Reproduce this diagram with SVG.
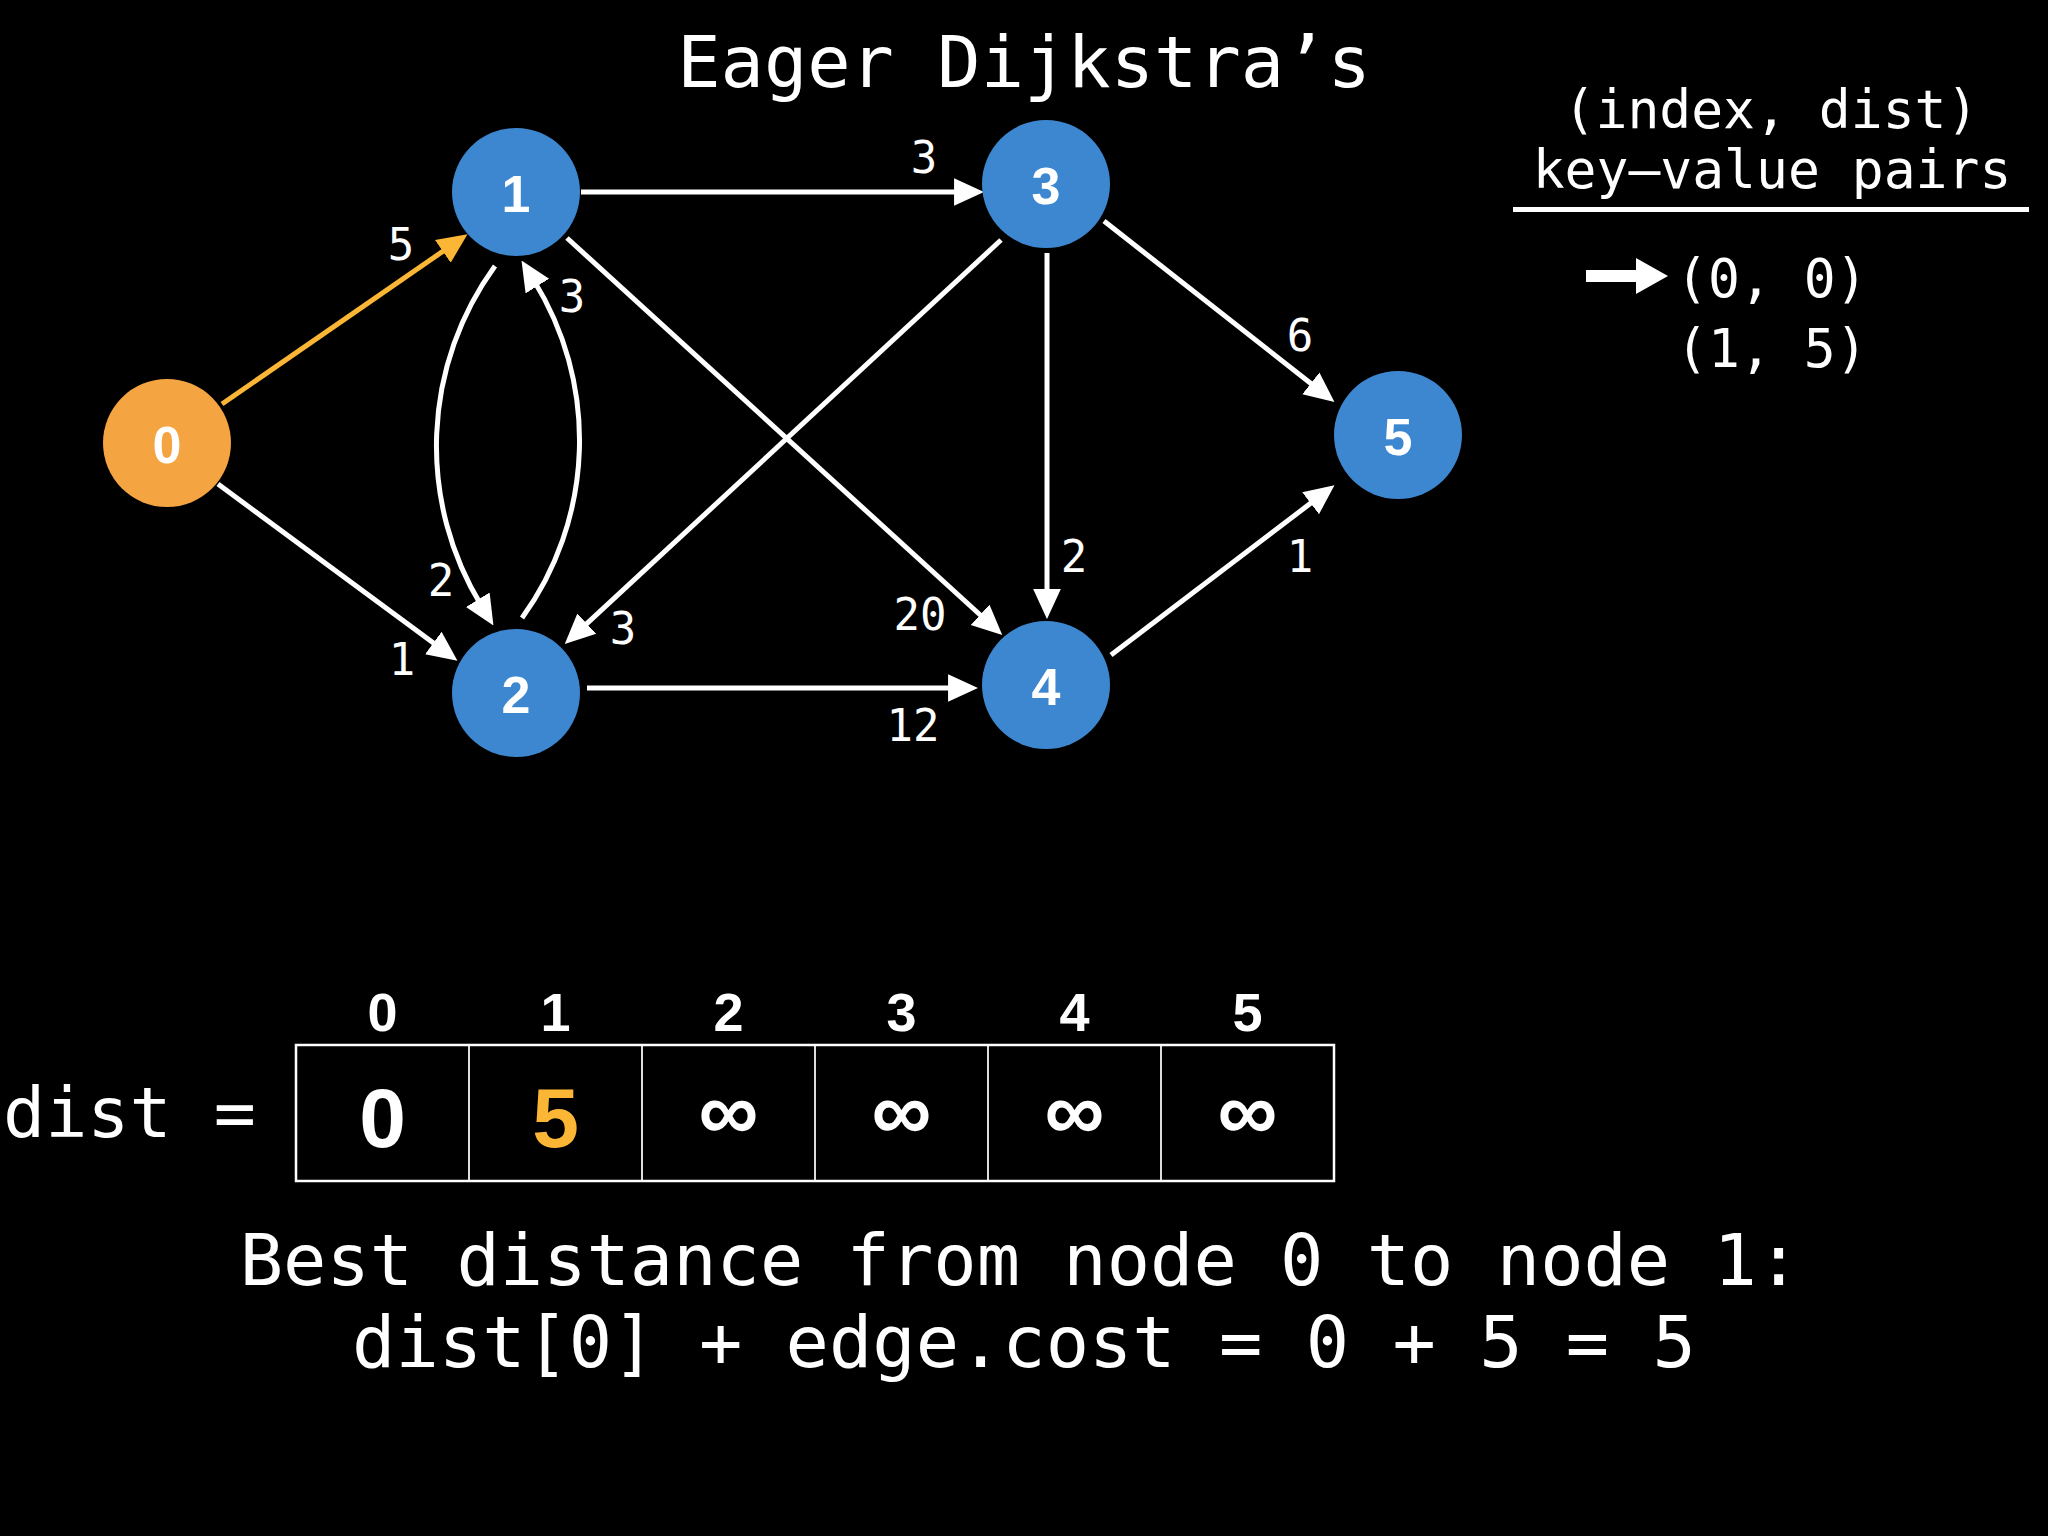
<svg xmlns="http://www.w3.org/2000/svg" width="2048" height="1536" viewBox="0 0 2048 1536">
<defs>
<style>
.mono{font-family:"DejaVu Sans Mono","Liberation Mono",monospace;fill:#fff}
.bold{font-family:"Liberation Sans",Arial,sans-serif;font-weight:bold;fill:#fff}
.edge{fill:none;stroke:#fff;stroke-width:5}
.hot{stroke:#FBB636}
.node-blue{fill:#3C87D0}
.node-orange{fill:#F5A442}
.nlabel{font-family:"Liberation Sans",Arial,sans-serif;font-weight:bold;font-size:52px;fill:#fff;text-anchor:middle}
.elabel{font-family:"DejaVu Sans Mono","Liberation Mono",monospace;font-size:44px;fill:#fff;text-anchor:middle}
</style>
<marker id="ah" markerUnits="userSpaceOnUse" markerWidth="30" markerHeight="30" viewBox="0 0 26 24" refX="6" refY="12" orient="auto">
<path d="M0,0 L26,12 L0,24 z" fill="#fff"/>
</marker>
<marker id="ahHot" markerUnits="userSpaceOnUse" markerWidth="30" markerHeight="30" viewBox="0 0 26 24" refX="6" refY="12" orient="auto">
<path d="M0,0 L26,12 L0,24 z" fill="#FBB636"/>
</marker>
</defs>
<rect width="2048" height="1536" fill="#000"/>

<text class="mono" x="1024" y="87" font-size="72" text-anchor="middle">Eager Dijkstra’s</text>

<g id="connectors">
<line class="edge hot" x1="222" y1="404" x2="448.5" y2="247.4" marker-end="url(#ahHot)"/>
<line class="edge" x1="218" y1="484" x2="438.9" y2="647.1" marker-end="url(#ah)"/>
<line class="edge" x1="581" y1="192" x2="961" y2="192" marker-end="url(#ah)"/>
<line class="edge" x1="567" y1="238" x2="985.2" y2="619.5" marker-end="url(#ah)"/>
<line class="edge" x1="1001" y1="240" x2="581.7" y2="628.4" marker-end="url(#ah)"/>
<line class="edge" x1="587" y1="688" x2="955" y2="688" marker-end="url(#ah)"/>
<line class="edge" x1="1047" y1="253" x2="1047" y2="596" marker-end="url(#ah)"/>
<line class="edge" x1="1104" y1="221" x2="1316.3" y2="387.7" marker-end="url(#ah)"/>
<line class="edge" x1="1111" y1="655" x2="1316.1" y2="499.1" marker-end="url(#ah)"/>
<path class="edge" d="M495,266 A306,306 0 0 0 481.4,605.7" marker-end="url(#ah)"/>
<path class="edge" d="M522,618 A303,303 0 0 0 533.7,280.2" marker-end="url(#ah)"/>
<text class="elabel" x="401" y="260">5</text>
<text class="elabel" x="402" y="675">1</text>
<text class="elabel" x="441" y="596">2</text>
<text class="elabel" x="572" y="312">3</text>
<text class="elabel" x="623" y="644">3</text>
<text class="elabel" x="924" y="173">3</text>
<text class="elabel" x="920" y="630">20</text>
<text class="elabel" x="913" y="741">12</text>
<text class="elabel" x="1074" y="572">2</text>
<text class="elabel" x="1300" y="351">6</text>
<text class="elabel" x="1300" y="572">1</text>
</g>

<g id="node0"><circle class="node-orange" cx="167" cy="443" r="64"/><text class="nlabel" x="167" y="463">0</text></g>
<g id="node1"><circle class="node-blue" cx="516" cy="192" r="64"/><text class="nlabel" x="516" y="212">1</text></g>
<g id="node2"><circle class="node-blue" cx="516" cy="693" r="64"/><text class="nlabel" x="516" y="713">2</text></g>
<g id="node3"><circle class="node-blue" cx="1046" cy="184" r="64"/><text class="nlabel" x="1046" y="204">3</text></g>
<g id="node4"><circle class="node-blue" cx="1046" cy="685" r="64"/><text class="nlabel" x="1046" y="705">4</text></g>
<g id="node5"><circle class="node-blue" cx="1398" cy="435" r="64"/><text class="nlabel" x="1398" y="455">5</text></g>

<g id="queue">
<text class="mono" x="1771" y="128" font-size="53" text-anchor="middle">(index, dist)</text>
<text class="mono" x="1772" y="188" font-size="53" text-anchor="middle">key–value pairs</text>
<rect x="1513" y="207" width="516" height="5" fill="#fff"/>
<rect x="1586" y="270" width="52" height="12" fill="#fff"/>
<path d="M1636,258 L1668,276 L1636,294 z" fill="#fff"/>
<text class="mono" x="1676" y="297" font-size="53">(0, 0)</text>
<text class="mono" x="1676" y="367" font-size="53">(1, 5)</text>
</g>

<g id="dist-array">
<text class="mono" x="3" y="1137" font-size="70">dist =</text>
<g stroke="#ddd" stroke-width="2">
<line x1="469" y1="1045" x2="469" y2="1181"/>
<line x1="642" y1="1045" x2="642" y2="1181"/>
<line x1="815" y1="1045" x2="815" y2="1181"/>
<line x1="988" y1="1045" x2="988" y2="1181"/>
<line x1="1161" y1="1045" x2="1161" y2="1181"/>
</g>
<rect x="296" y="1045" width="1038" height="136" fill="none" stroke="#fff" stroke-width="2.5"/>
<g class="bold" font-size="54" text-anchor="middle">
<text x="382.5" y="1031">0</text>
<text x="555.5" y="1031">1</text>
<text x="728.5" y="1031">2</text>
<text x="901.5" y="1031">3</text>
<text x="1074.5" y="1031">4</text>
<text x="1247.5" y="1031">5</text>
</g>
<g class="bold" font-size="84" text-anchor="middle">
<text x="382.5" y="1147">0</text>
<text x="555.5" y="1147" fill="#FBB636">5</text>
<text x="728.5" y="1140">∞</text>
<text x="901.5" y="1140">∞</text>
<text x="1074.5" y="1140">∞</text>
<text x="1247.5" y="1140">∞</text>
</g>
</g>

<text class="mono" x="1020" y="1285" font-size="72" text-anchor="middle">Best distance from node 0 to node 1:</text>
<text class="mono" x="1024" y="1367" font-size="72" text-anchor="middle">dist[0] + edge.cost = 0 + 5 = 5</text>
</svg>
